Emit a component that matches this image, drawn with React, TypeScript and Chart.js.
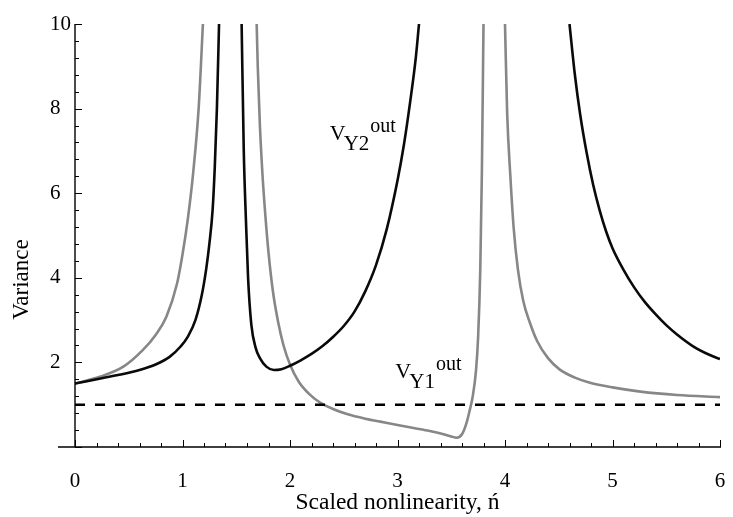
import React, { useEffect, useRef } from 'react';
import { Chart, registerables } from 'chart.js';

Chart.register(...registerables);

const FONT = '"Liberation Serif", "Times New Roman", serif';

// V_Y2^out (black) branches
const Y2_A_X = [0, 0.1, 0.26, 0.4, 0.6, 0.75, 0.88, 0.98, 1.05, 1.12, 1.18, 1.22, 1.25, 1.28, 1.3, 1.32, 1.34];
const Y2_A_Y = [1.5, 1.55, 1.63, 1.7, 1.82, 1.95, 2.13, 2.37, 2.61, 3.0, 3.6, 4.2, 4.8, 5.6, 6.6, 8.0, 10];
const Y2_B_X = [1.55, 1.57, 1.59, 1.61, 1.64, 1.68, 1.72, 1.78, 1.85, 1.92, 2.0, 2.1, 2.2, 2.3, 2.4, 2.5, 2.6, 2.7, 2.8, 2.9, 3.0, 3.06, 3.12, 3.17, 3.2];
const Y2_B_Y = [10, 7.0, 5.37, 4.0, 2.9, 2.35, 2.1, 1.9, 1.82, 1.84, 1.92, 2.05, 2.2, 2.38, 2.6, 2.86, 3.2, 3.68, 4.3, 5.15, 6.3, 7.15, 8.2, 9.2, 10];
const Y2_C_X = [4.6, 4.65, 4.7, 4.76, 4.82, 4.88, 4.94, 5.0, 5.1, 5.2, 5.3, 5.4, 5.5, 5.6, 5.75, 5.9, 6.0];
const Y2_C_Y = [10, 8.8, 7.85, 6.95, 6.2, 5.6, 5.1, 4.7, 4.2, 3.78, 3.43, 3.14, 2.88, 2.66, 2.38, 2.18, 2.08];

// V_Y1^out (gray) branches
const Y1_A_X = [0, 0.23, 0.45, 0.63, 0.75, 0.85, 0.95, 1.0, 1.05, 1.1, 1.15, 1.19];
const Y1_A_Y = [1.5, 1.66, 1.9, 2.29, 2.65, 3.08, 3.87, 4.55, 5.4, 6.5, 8.0, 10];
const Y1_B_X = [1.69, 1.7, 1.72, 1.745, 1.77, 1.8, 1.84, 1.89, 1.94, 2.0, 2.08, 2.18, 2.28, 2.4, 2.53, 2.7, 2.84, 3.0, 3.15, 3.3, 3.42, 3.5, 3.55, 3.6, 3.64, 3.67, 3.7, 3.73, 3.75, 3.77, 3.785, 3.8];
const Y1_B_Y = [10, 9.0, 7.6, 6.4, 5.5, 4.6, 3.7, 2.95, 2.4, 1.95, 1.55, 1.25, 1.05, 0.9, 0.78, 0.67, 0.6, 0.52, 0.45, 0.38, 0.31, 0.25, 0.22, 0.3, 0.55, 0.85, 1.2, 1.8, 2.6, 4.2, 6.5, 10];
const Y1_C_X = [4.0, 4.02, 4.05, 4.08, 4.12, 4.17, 4.23, 4.3, 4.4, 4.51, 4.65, 4.79, 5.0, 5.26, 5.6, 6.0];
const Y1_C_Y = [10, 7.9, 6.4, 5.2, 4.2, 3.45, 2.95, 2.5, 2.1, 1.83, 1.64, 1.52, 1.41, 1.31, 1.23, 1.18];

// reference dashed level
const REF_X = [0, 6];
const REF_Y = [1, 1];

// axes
const X_TICKS = [0, 1, 2, 3, 4, 5, 6];
const Y_TICKS = [2, 4, 6, 8, 10];
const X_MINOR_STEP = 0.2;
const Y_MINOR_STEP = 0.4;

const X_TITLE = 'Scaled nonlinearity, ń';
const Y_TITLE = 'Variance';

const LABEL_Y2 = { x: 2.37, y: 7.26, sub: 'Y2' };
const LABEL_Y1 = { x: 2.98, y: 1.63, sub: 'Y1' };

const BLACK = '#0a0a0a';
const GRAY = '#878787';

function pts(xs: number[], ys: number[]) {
  return xs.map((x, i) => ({ x, y: ys[i] }));
}

function lineDs(xs: number[], ys: number[], color: string, dash: number[] = []) {
  return {
    data: pts(xs, ys),
    borderColor: color,
    backgroundColor: color,
    borderWidth: 2.6,
    borderDash: dash,
    pointRadius: 0,
    fill: false,
    cubicInterpolationMode: 'monotone',
    clip: 0,
    showLine: true,
  };
}

const axesPlugin = {
  id: 'mmaAxes',
  afterDatasetsDraw(chart: any) {
    const { ctx, scales } = chart;
    const x = scales.x;
    const y = scales.y;
    const x0 = x.getPixelForValue(0);
    const x6 = x.getPixelForValue(6);
    const y0 = y.getPixelForValue(0);
    const y10 = y.getPixelForValue(10);
    ctx.save();
    ctx.strokeStyle = '#000';
    ctx.lineWidth = 1.4;
    ctx.beginPath();
    ctx.moveTo(x0 - 17, y0);
    ctx.lineTo(x6 + 1, y0);
    ctx.moveTo(x0, y0);
    ctx.lineTo(x0, y10);
    ctx.stroke();
    ctx.lineWidth = 1;
    ctx.beginPath();
    for (let v = 0; v <= 6.0001; v += X_MINOR_STEP) {
      const px = Math.round(x.getPixelForValue(v)) + 0.5;
      const isMajor = Math.abs(v - Math.round(v)) < 1e-6;
      ctx.moveTo(px, y0);
      ctx.lineTo(px, y0 - (isMajor ? 7 : 4));
    }
    for (let v = 0; v <= 10.0001; v += Y_MINOR_STEP) {
      const py = Math.round(y.getPixelForValue(v)) + 0.5;
      const isMajor = Math.abs(v / 2 - Math.round(v / 2)) < 1e-6;
      ctx.moveTo(x0, py);
      ctx.lineTo(x0 + (isMajor ? 7 : 4), py);
    }
    ctx.stroke();

    // curve labels
    const drawLabel = (lab: { x: number; y: number; sub: string }) => {
      const px = x.getPixelForValue(lab.x);
      const py = y.getPixelForValue(lab.y);
      ctx.fillStyle = '#000';
      ctx.textAlign = 'left';
      ctx.textBaseline = 'alphabetic';
      ctx.font = `22px ${FONT}`;
      ctx.fillText('V', px, py);
      const w = ctx.measureText('V').width;
      ctx.font = `21px ${FONT}`;
      ctx.fillText(lab.sub, px + w - 2, py + 10);
      const w2 = ctx.measureText(lab.sub).width;
      ctx.font = `20px ${FONT}`;
      ctx.fillText('out', px + w + w2 - 1, py - 8);
    };
    drawLabel(LABEL_Y2);
    drawLabel(LABEL_Y1);

    // y title
    ctx.save();
    ctx.translate(22, (y0 + y10) / 2 + 44);
    ctx.rotate(-Math.PI / 2);
    ctx.font = `23px ${FONT}`;
    ctx.textAlign = 'center';
    ctx.textBaseline = 'middle';
    ctx.fillStyle = '#000';
    ctx.fillText(Y_TITLE, 0, 0);
    ctx.restore();
    ctx.restore();
  },
};

export default function App() {
  const ref = useRef<HTMLCanvasElement | null>(null);
  useEffect(() => {
    if (!ref.current) return;
    const chart = new Chart(ref.current, {
      type: 'scatter',
      data: {
        datasets: [
          lineDs(REF_X, REF_Y, '#000', [10, 10]),
          lineDs(Y2_A_X, Y2_A_Y, BLACK),
          lineDs(Y2_B_X, Y2_B_Y, BLACK),
          lineDs(Y2_C_X, Y2_C_Y, BLACK),
          lineDs(Y1_A_X, Y1_A_Y, GRAY),
          lineDs(Y1_B_X, Y1_B_Y, GRAY),
          lineDs(Y1_C_X, Y1_C_Y, GRAY),
        ] as any,
      },
      options: {
        responsive: false,
        animation: false,
        events: [],
        layout: { padding: { left: 50, right: 13, top: 24, bottom: 0 } },
        plugins: { legend: { display: false }, tooltip: { enabled: false } },
        scales: {
          x: {
            type: 'linear',
            min: 0,
            max: 6,
            grid: { display: false, drawTicks: false },
            border: { display: false },
            afterBuildTicks: (s: any) => {
              s.ticks = X_TICKS.map((v) => ({ value: v }));
            },
            afterFit: (s: any) => {
              s.height = 70;
              s.paddingLeft = 0;
              s.paddingRight = 0;
            },
            ticks: {
              autoSkip: false,
              maxRotation: 0,
              color: '#000',
              padding: 22,
              font: { family: FONT, size: 21 },
            },
            title: {
              display: true,
              text: X_TITLE,
              color: '#000',
              font: { family: FONT, size: 23.5 },
              padding: { top: 0, bottom: 0 },
            },
          },
          y: {
            type: 'linear',
            min: 0,
            max: 10,
            grid: { display: false, drawTicks: false },
            border: { display: false },
            afterBuildTicks: (s: any) => {
              s.ticks = Y_TICKS.map((v) => ({ value: v }));
            },
            afterFit: (s: any) => {
              s.width = 25;
              s.paddingTop = 0;
              s.paddingBottom = 0;
            },
            ticks: {
              autoSkip: false,
              color: '#000',
              crossAlign: 'far',
              padding: 4,
              font: { family: FONT, size: 21 },
            },
          },
        },
      },
      plugins: [axesPlugin],
    });
    return () => chart.destroy();
  }, []);
  return (
    <div style={{ position: 'fixed', left: 0, top: 0, width: 733, height: 517, background: '#fff' }}>
      <canvas ref={ref} width={733} height={517} style={{ width: 733, height: 517 }} />
    </div>
  );
}
